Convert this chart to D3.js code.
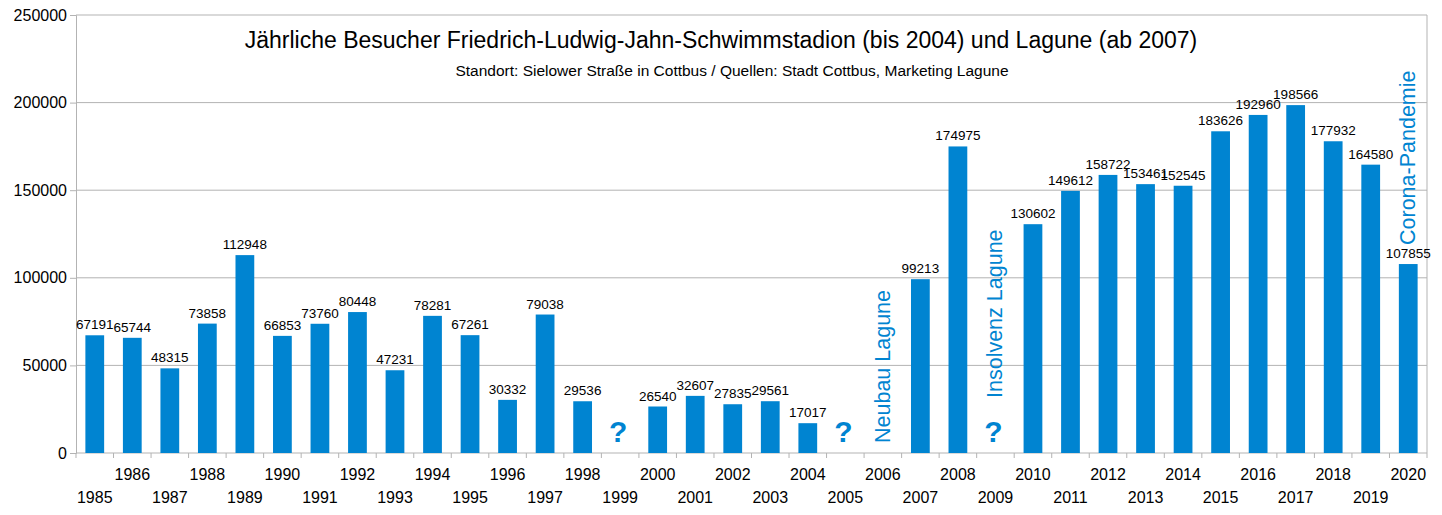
<!DOCTYPE html>
<html>
<head>
<meta charset="utf-8">
<script src="https://cdn.jsdelivr.net/npm/d3@7"></script>
<style>
  body { margin: 0; background: #fff; }
  svg { font-family: "Liberation Sans", Arial, sans-serif; }
</style>
</head>
<body>
<svg id="chart"></svg>
<script>
// visitors per year (null = no data)
const years = d3.range(1985, 2021).map(String);
const visitors = [67191, 65744, 48315, 73858, 112948, 66853, 73760, 80448, 47231, 78281,
  67261, 30332, 79038, 29536, null, 26540, 32607, 27835, 29561, 17017,
  null, null, 99213, 174975, null, 130602, 149612, 158722, 153461, 152545,
  183626, 192960, 198566, 177932, 164580, 107855];
const yTicks = [0, 50000, 100000, 150000, 200000, 250000];
const questionYears = ["1999", "2005", "2009"];
const notes = [
  { year: "2006", text: "Neubau Lagune", bottom: 443 },
  { year: "2009", text: "Insolvenz Lagune", bottom: 398 },
  { year: "2020", text: "Corona-Pandemie", bottom: 245 }
];
const title = "Jährliche Besucher Friedrich-Ludwig-Jahn-Schwimmstadion (bis 2004) und Lagune (ab 2007)";
const subtitle = "Standort: Sielower Straße in Cottbus / Quellen: Stadt Cottbus, Marketing Lagune";

const width = 1442, height = 515;
const margin = { top: 15, right: 15, bottom: 62, left: 76 };
const blue = "#0084d1";
const grid = "#b3b3b3";

const data = years.map((y, i) => ({ year: y, value: visitors[i] }));

const svg = d3.select("#chart")
  .attr("width", width)
  .attr("height", height);

const innerW = width - margin.left - margin.right;
const innerH = height - margin.top - margin.bottom;

const chart = svg.append("g")
  .attr("transform", `translate(${margin.left}, ${margin.top})`);

const x = d3.scaleBand()
  .domain(years)
  .range([0, innerW])
  .paddingInner(0.5)
  .paddingOuter(0.25);

const y = d3.scaleLinear()
  .domain([0, 250000])
  .range([innerH, 0]);

// gridlines
chart.append("g")
  .selectAll("line")
  .data(yTicks.slice(1))
  .join("line")
  .attr("x1", 0)
  .attr("x2", innerW)
  .attr("y1", d => y(d))
  .attr("y2", d => y(d))
  .attr("stroke", grid);

chart.append("line")
  .attr("x1", innerW).attr("x2", innerW)
  .attr("y1", 0).attr("y2", innerH)
  .attr("stroke", grid);

// y axis
const yaxis = d3.axisLeft(y)
  .tickValues(yTicks)
  .tickSize(6)
  .tickPadding(3)
  .tickFormat(d3.format("d"));

const yg = chart.append("g").call(yaxis);
yg.selectAll("path, line").attr("stroke", grid);
yg.selectAll("text").attr("font-size", 16).attr("fill", "#000");

// x axis: boundary ticks + staggered labels
const step = x.step();
const bounds = d3.range(years.length + 1).map(i => i * step);
const xg = chart.append("g").attr("transform", `translate(0, ${innerH})`);
xg.append("line")
  .attr("x1", 0).attr("x2", innerW)
  .attr("stroke", grid);
xg.selectAll(".btick")
  .data(bounds)
  .join("line")
  .attr("class", "btick")
  .attr("x1", d => d).attr("x2", d => d)
  .attr("y1", 0).attr("y2", 5)
  .attr("stroke", grid);
xg.selectAll(".xlabel")
  .data(years)
  .join("text")
  .attr("class", "xlabel")
  .attr("x", d => x(d) + x.bandwidth() / 2)
  .attr("y", (d, i) => i % 2 === 1 ? 27 : 50)
  .attr("text-anchor", "middle")
  .attr("font-size", 16)
  .text(d => d);

// bars
const bars = data.filter(d => d.value != null);
chart.selectAll("rect.bar")
  .data(bars)
  .join("rect")
  .attr("class", "bar")
  .attr("x", d => x(d.year))
  .attr("width", x.bandwidth())
  .attr("y", d => y(d.value))
  .attr("height", d => innerH - y(d.value))
  .attr("fill", blue);

chart.selectAll("text.val")
  .data(bars)
  .join("text")
  .attr("class", "val")
  .attr("x", d => x(d.year) + x.bandwidth() / 2)
  .attr("y", d => y(d.value) - 6)
  .attr("text-anchor", "middle")
  .attr("font-size", 13.5)
  .text(d => d.value);

// question marks for missing years
chart.selectAll("text.q")
  .data(questionYears)
  .join("text")
  .attr("class", "q")
  .attr("x", d => x(d) + x.bandwidth() / 2 - 2)
  .attr("y", innerH - 11)
  .attr("text-anchor", "middle")
  .attr("font-size", 30)
  .attr("font-weight", "bold")
  .attr("fill", blue)
  .text("?");

// vertical notes
chart.selectAll("text.note")
  .data(notes)
  .join("text")
  .attr("class", "note")
  .attr("transform", d => `translate(${x(d.year) + x.bandwidth() / 2 + 7}, ${d.bottom - margin.top}) rotate(-90)`)
  .attr("font-size", 21.5)
  .attr("fill", blue)
  .text(d => d.text);

// titles
svg.append("text")
  .attr("x", 721)
  .attr("y", 48)
  .attr("text-anchor", "middle")
  .attr("font-size", 23)
  .text(title);

svg.append("text")
  .attr("x", 732)
  .attr("y", 76)
  .attr("text-anchor", "middle")
  .attr("font-size", 15.5)
  .text(subtitle);
</script>
</body>
</html>
